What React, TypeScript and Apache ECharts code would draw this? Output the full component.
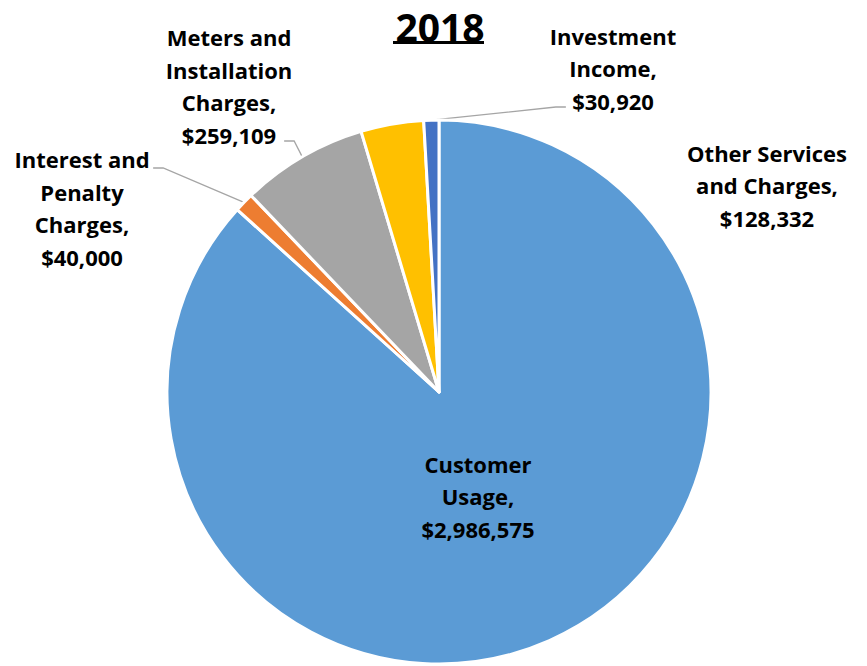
import React, { useEffect, useRef } from "react";
import * as echarts from "echarts";

const titleText = "2018";
const categories = [
  "Customer\nUsage",
  "Interest and\nPenalty\nCharges",
  "Meters and\nInstallation\nCharges",
  "Other Services\nand Charges",
  "Investment\nIncome",
];
const values = [2986575, 40000, 259109, 128332, 30920];
const colors = ["#5B9BD5", "#ED7D31", "#A5A5A5", "#FFC000", "#4472C4"];
// label block centers, chart coordinates
const labelPos: [number, number][] = [
  [478, 496],
  [82, 208],
  [229, 86],
  [767, 185],
  [613, 68],
];
// leader-line attachment points beside the labels
const linePos: [number, number][] = [
  [0, 0],
  [153, 168],
  [284, 141],
  [0, 0],
  [566, 107],
];
const showLine = [false, true, true, false, true];

const fmt = (v: number) => "$" + v.toLocaleString("en-US");

export default function App() {
  const ref = useRef<HTMLDivElement>(null);
  useEffect(() => {
    if (!ref.current) return;
    const chart = echarts.init(ref.current, null, { renderer: "svg" });
    const font = "'Open Sans', sans-serif";
    const center = [439, 392];
    const radius = 272;
    chart.setOption({
      animation: false,
      backgroundColor: "#ffffff",
      title: {
        text: titleText,
        top: 2,
        left: 435,
        textAlign: "center",
        textStyle: { fontFamily: font, fontWeight: "bold", fontSize: 39, color: "#000" },
      },
      graphic: [
        { type: "rect", shape: { x: 393, y: 41, width: 91, height: 3 }, style: { fill: "#000" } },
      ],
      series: [
        {
          type: "pie",
          silent: true,
          center,
          radius,
          startAngle: 90,
          clockwise: true,
          itemStyle: { color: "rgba(0,0,0,0)", borderWidth: 0 },
          label: {
            show: true,
            formatter: (p: any) => (showLine[p.dataIndex] ? " " : ""),
            fontSize: 1,
            color: "rgba(0,0,0,0)",
          },
          labelLine: {
            show: true,
            length: 8,
            length2: 10,
            lineStyle: { color: "#A5A5A5", width: 1.3 },
          },
          labelLayout: (params: any) => {
            const i = params.dataIndex;
            return { x: linePos[i][0], y: linePos[i][1], align: "center", verticalAlign: "middle" };
          },
          data: categories.map((c, i) => ({
            name: c,
            value: values[i],
            label: { show: showLine[i] },
            labelLine: { show: showLine[i] },
          })),
        },
        {
          type: "pie",
          center,
          radius,
          startAngle: 90,
          clockwise: true,
          itemStyle: { borderColor: "#fff", borderWidth: 3 },
          label: {
            show: true,
            position: "outside",
            overflow: "none",
            edgeDistance: 0,
            fontFamily: font,
            fontWeight: "bold",
            fontSize: 22,
            lineHeight: 32.5,
            color: "#000",
            align: "center",
            formatter: (p: any) => p.name + ",\n" + fmt(p.value),
          },
          labelLine: { show: false },
          labelLayout: (params: any) => {
            const i = params.dataIndex;
            return { x: labelPos[i][0], y: labelPos[i][1], align: "center", verticalAlign: "middle" };
          },
          data: categories.map((c, i) => ({
            name: c,
            value: values[i],
            itemStyle: { color: colors[i] },
            label: i === 0 ? { position: "inside" } : undefined,
          })),
        },
      ],
    });
    return () => chart.dispose();
  }, []);
  return (
    <div
      ref={ref}
      style={{ position: "fixed", left: 0, top: 0, width: 867, height: 666 }}
    />
  );
}
